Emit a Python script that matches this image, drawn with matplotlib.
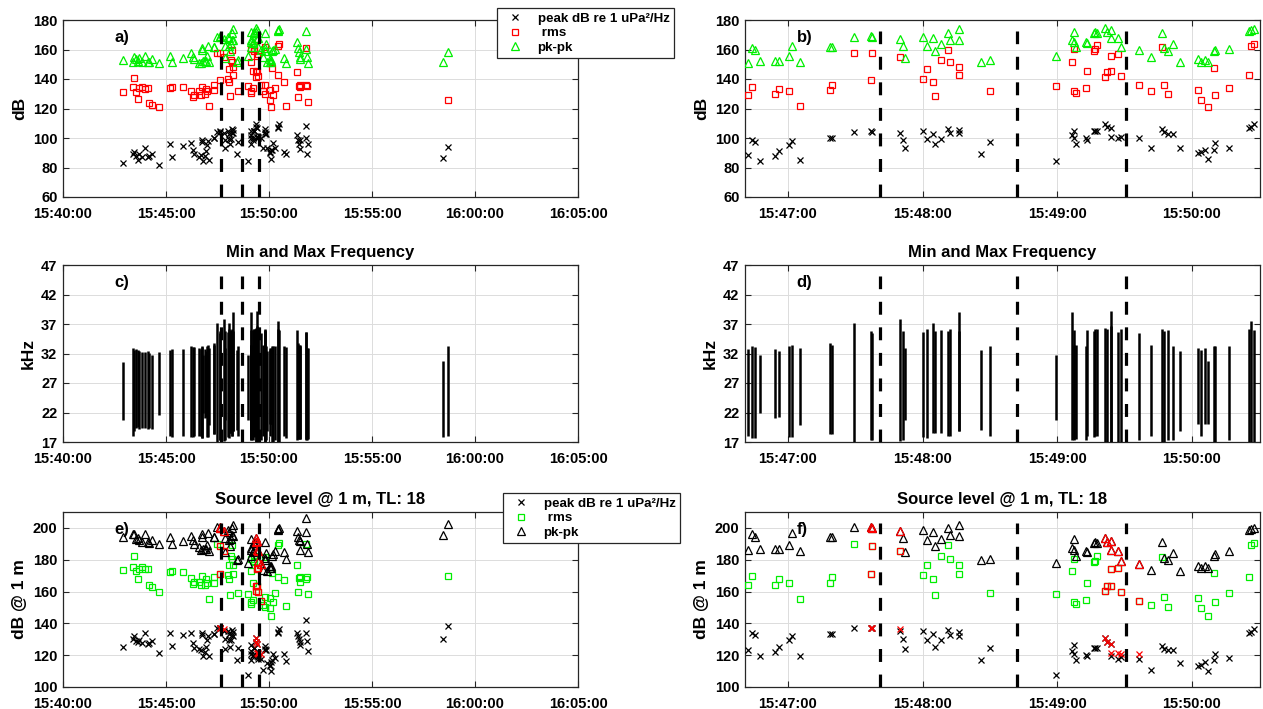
import datetime as dt

import numpy as np
import matplotlib
matplotlib.use("Agg")
import matplotlib.pyplot as plt
import matplotlib.dates as mdates
from matplotlib.lines import Line2D

nan = np.nan

# click times, seconds after 15:40:00
t_sec = [
    173.4, 202.6, 207.5, 212.3, 217.2, 222.1, 229.9, 239.6, 246.4, 251.3,
    259.1, 280.5, 312.7, 316.6, 348.7, 373.1, 377.9, 382.8, 397.4,
    402.3, 404.0, 405.5, 407.8, 414.4, 416.0, 420.4, 421.9, 425.2, 438.9,
    439.5, 449.6, 456.9, 457.5, 470.0, 471.2, 472.4, 480.4, 482.2, 484.5,
    485.4, 488.3, 491.3, 492.4, 496.1, 496.4, 505.9, 509.9,
    539.4, 546.8, 547.3, 547.7, 548.2, 552.8, 553.2, 556.5, 557.0, 557.7,
    561.3, 562.0, 563.8, 564.1, 567.0, 568.5, 576.5, 581.7, 586.9, 587.4,
    589.4, 591.8, 594.9, 602.7, 604.1, 606.0, 607.1, 609.8, 610.2, 616.8,
    625.5, 626.6, 627.8,
    642.9, 648.7, 681.8, 684.7, 687.7, 689.6, 691.5, 707.1, 709.1, 711.0,
    713.9, 1106.5, 1121.1,
]

# received levels (dB)
rl_peak = [
    83.3, 89.4, 90.6, 87.6, 84.9, 89.0, 87.2, 93.5, 87.2, 87.6,
    89.0, 81.5, 96.2, 87.2, 94.6, 96.7, 91.7, 89.0, 87.2,
    88.4, 98.6, 97.5, 84.5, 87.7, 91.1, 95.2, 97.9, 85.2, 99.8,
    99.8, 104.3, 104.8, 104.3, 103.6, 98.9, 93.4, 104.5, 99.1, 103.0,
    95.7, 99.5, 106.4, 103.2, 105.5, 103.2, 88.9, 97.3,
    84.5, 102.0, 99.8, 104.8, 95.7, 99.8, 98.6, 105.0, 104.8, 104.5,
    109.5, 107.7, 106.6, 100.7, 100.2, 100.9, 99.8, 93.0, 105.9, 104.3,
    102.5, 102.5, 93.4, 89.5, 90.5, 92.0, 86.1, 92.0, 96.8, 93.4,
    106.8, 107.7, 109.3,
    90.6, 89.4, 101.9, 98.5, 96.2, 98.5, 92.8, 108.0, 100.3, 89.4,
    96.2, 86.7, 94.0,
]
rl_rms = [
    130.9, 134.3, 141.0, 131.3, 126.3, 133.6, 134.3, 133.1, 133.6, 123.9,
    122.3, 120.7, 134.0, 134.3, 134.3, 132.0, 127.9, 129.0, 132.0,
    129.1, 134.8, nan, nan, 130.0, 133.4, 131.6, nan, 121.4, 132.5,
    135.7, 157.5, 139.1, 157.3, 154.8, nan, nan, 140.0, 147.0, 137.7,
    128.4, 153.0, 160.0, 151.4, 142.5, 148.0, nan, 131.6,
    135.5, 151.8, 132.0, 160.2, 130.2, 133.6, 145.2, 159.1, 160.2, 163.0,
    141.6, 145.0, 145.5, 155.5, 157.0, 142.0, 135.7, 131.8, 161.8, 135.7,
    129.8, nan, nan, 132.5, 125.7, nan, 120.7, 147.5, 128.9, 133.6,
    142.7, 162.7, 163.6,
    138.1, 121.6, 144.9, 127.5, 135.2, 135.9, 134.7, 160.8, 135.9, 135.2,
    124.5, nan, 125.7,
]
rl_pkpk = [
    152.8, 151.7, 155.1, 153.3, 152.0, 154.0, 151.7, 155.8, 151.7, 151.7,
    153.3, 151.0, 155.8, 151.7, 154.0, 157.8, 155.1, 153.3, 151.0,
    150.9, 161.1, 159.5, 152.0, 152.5, 152.5, 155.5, 162.7, 151.8, 161.8,
    161.4, 168.6, 169.3, 168.2, 167.3, 162.5, 154.3, 168.6, 162.7, 167.5,
    159.3, 163.9, 170.9, 166.4, 173.6, 166.6, 151.6, 153.2,
    155.5, 166.4, 165.2, 171.6, 161.8, 165.2, 164.3, 170.9, 172.0, 170.9,
    174.8, 172.0, 173.0, 167.5, 167.5, 161.6, 159.5, 154.8, 170.9, 161.1,
    159.3, 163.9, 151.4, 153.6, 151.8, 153.2, 151.4, 158.9, 160.0, 160.2,
    172.7, 173.0, 173.6,
    154.0, 151.0, 165.3, 160.8, 158.5, 155.1, 153.3, 172.8, 160.1, 155.1,
    151.0, 151.5, 158.5,
]

# min / max frequency (kHz)
f_min = [
    20.8, 18.0, 18.8, 19.4, 19.5, 19.2, 19.4, 19.4, 19.2, 19.4,
    19.2, 21.5, 18.0, 17.8, 18.1, 17.8, 17.8, 18.1, 18.0,
    18.0, 17.7, 17.7, 21.9, 21.1, 21.3, 17.9, 17.9, 19.8, 18.3,
    18.3, 17.0, 17.3, 17.3, 17.2, 17.4, 20.7, 17.9, 17.7, 18.5,
    18.6, 18.5, 18.1, 18.0, 18.8, 18.8, 19.1, 18.1,
    20.7, 17.3, 17.3, 17.5, 17.5, 17.3, 18.1, 17.9, 18.0, 18.0,
    17.0, 17.0, 17.0, 17.0, 17.0, 17.0, 17.4, 18.1, 17.0, 17.0,
    17.3, 17.3, 18.8, 20.1, 18.1, 20.0, 20.0, 17.0, 17.0, 17.3,
    17.0, 17.0, 17.0,
    18.0, 17.7, 17.4, 17.5, 17.5, 17.5, 17.5, 17.5, 17.4, 17.4,
    17.5, 17.8, 18.0,
]
f_max = [
    30.5, 32.9, 32.6, 32.7, 32.6, 32.5, 32.3, 32.3, 32.5, 32.1,
    31.8, 32.2, 32.6, 32.7, 32.7, 33.2, 33.1, 33.1, 32.9,
    32.7, 33.2, 33.1, 31.8, 32.7, 32.4, 33.3, 33.4, 33.0, 33.8,
    33.4, 37.2, 35.8, 35.5, 37.9, 35.8, 33.0, 35.7, 36.1, 37.1,
    35.8, 35.9, 35.8, 36.2, 39.1, 35.8, 32.6, 33.3,
    31.7, 39.1, 36.0, 33.4, 33.4, 33.2, 36.0, 35.8, 36.1, 36.1,
    36.4, 36.2, 39.2, 36.7, 35.7, 36.1, 35.4, 33.4, 36.1, 35.8,
    35.9, 33.3, 32.4, 33.0, 32.6, 33.0, 30.7, 33.2, 33.2, 33.2,
    36.1, 37.5, 35.9,
    33.2, 33.1, 36.0, 33.8, 33.5, 33.5, 33.3, 35.7, 35.7, 33.0,
    32.9, 30.8, 33.2,
]

# source levels @ 1 m (dB)
sl_peak = [
    125.3, 130.4, 132.1, 128.9, 128.0, 129.4, 127.5, 133.7, 126.9, 127.5,
    128.9, 121.1, 134.2, 125.9, 132.5, 133.7, 127.5, 124.8, 124.0,
    123.1, 134.1, 132.4, 119.2, 122.1, 125.4, 129.3, 132.0, 119.2, 133.1,
    133.1, 137.0, 137.0, 137.0, 135.0, 130.0, 124.1, 134.9, 129.3, 133.5,
    125.4, 129.3, 136.0, 132.4, 134.5, 132.0, 117.1, 124.8,
    107.8, 122.7, 121.0, 126.4, 116.9, 120.2, 119.4, 124.8, 124.6, 124.5,
    131.0, 128.5, 127.3, 119.6, 117.9, 118.7, 117.9, 110.8, 125.8, 124.1,
    123.1, 123.1, 114.8, 112.9, 113.6, 115.9, 110.3, 116.9, 121.0, 118.5,
    134.1, 134.7, 136.2,
    120.7, 116.6, 133.7, 132.1, 130.0, 128.4, 126.5, 142.0, 133.7, 129.0,
    122.8, 130.4, 138.3,
]
sl_rms = [
    173.5, 175.6, 182.2, 173.1, 167.7, 173.9, 175.2, 173.9, 173.9, 164.4,
    162.7, 160.0, 172.5, 173.1, 172.5, 168.3, 164.8, 166.3, 166.3,
    164.1, 169.5, nan, nan, 164.1, 167.7, 165.6, nan, 155.6, 165.6,
    168.9, 189.6, 171.0, 188.8, 185.5, nan, nan, 170.2, 177.0, 167.7,
    158.1, 182.2, 189.2, 180.5, 171.2, 176.6, nan, 159.0,
    158.3, 173.1, 153.4, 180.7, 152.0, 154.4, 165.6, 178.4, 179.5, 182.2,
    160.4, 163.5, 163.7, 173.9, 175.1, 159.8, 153.8, 151.3, 181.6, 156.3,
    150.3, nan, nan, 155.9, 149.4, nan, 144.9, 171.6, 153.2, 159.4,
    169.3, 189.0, 190.7,
    167.3, 151.1, 176.6, 160.0, 168.7, 169.4, 166.0, 190.0, 168.0, 169.0,
    158.6, nan, 170.0,
]
sl_pkpk = [
    194.6, 195.9, 196.3, 193.2, 193.8, 192.1, 191.1, 196.3, 191.1, 190.5,
    192.1, 190.1, 194.6, 190.1, 191.5, 194.8, 192.1, 190.1, 188.0,
    186.3, 195.9, 194.0, 186.5, 186.5, 186.5, 189.4, 196.5, 185.5, 194.6,
    194.6, 200.8, 200.8, 199.8, 198.3, 193.6, 184.9, 198.5, 192.7, 197.3,
    188.6, 193.2, 199.8, 195.6, 202.1, 194.8, 179.7, 180.3,
    178.2, 187.6, 186.3, 193.2, 182.6, 185.5, 184.9, 190.7, 191.1, 190.5,
    193.6, 190.9, 191.5, 185.9, 185.5, 179.3, 177.4, 173.3, 191.1, 181.3,
    179.7, 184.2, 172.8, 176.0, 174.9, 176.2, 174.7, 182.4, 183.8, 185.3,
    198.8, 199.4, 200.0,
    184.9, 180.7, 197.9, 194.2, 192.5, 191.7, 185.9, 206.2, 197.3, 189.6,
    184.9, 195.7, 202.5,
]

# clicks drawn in red on the source level panels
red_sec = [456.9, 457.5, 470.0, 561.3, 562.0, 563.8, 564.1, 567.0, 568.5, 576.5]
red_peak = [137.0, 137.0, 136.2, 131.0, 128.5, 127.3, 121.2, 121.2, 121.0, 120.6]
red_rms = [171.0, 188.8, 185.5, 160.4, 163.5, 163.7, 173.9, 175.1, 159.8, 153.8]
red_pkpk = [200.8, 199.8, 198.3, 193.6, 190.9, 191.5, 185.9, 185.5, 179.3, 177.4]

dash_sec = [461.0, 522.0, 570.6]

base = dt.datetime(2016, 1, 1, 15, 40, 0)


def to_time(secs):
    return [base + dt.timedelta(seconds=float(s)) for s in secs]


t = to_time(t_sec)
t_red = to_time(red_sec)
t_dash = to_time(dash_sec)

plt.rcParams["font.family"] = ["Liberation Sans", "DejaVu Sans"]
plt.rcParams["font.weight"] = "bold"
plt.rcParams["axes.titleweight"] = "bold"
plt.rcParams["axes.labelweight"] = "bold"

GREEN = "#00ee00"
AX_COL = "#262626"
W, H = 1263, 709
fig = plt.figure(figsize=(W / 100, H / 100), dpi=100)


def px_axes(x0, y0, x1, y1):
    return fig.add_axes([x0 / W, 1 - y1 / H, (x1 - x0) / W, (y1 - y0) / H])


ax_a = px_axes(63, 20, 578, 197)
ax_b = px_axes(745, 20, 1260, 197)
ax_c = px_axes(63, 265, 578, 442)
ax_d = px_axes(745, 265, 1260, 442)
ax_e = px_axes(63, 512, 578, 687)
ax_f = px_axes(745, 512, 1260, 687)

left_lim = to_time([0, 1500])
right_lim = to_time([400.9, 630.4])
left_ticks = to_time(np.arange(0, 1501, 300))
right_ticks = to_time([420, 480, 540, 600])


def style(ax, lim, ticks, ylim, yticks, label):
    ax.set_xlim(lim)
    ax.set_xticks(ticks)
    ax.xaxis.set_major_formatter(mdates.DateFormatter("%H:%M:%S"))
    ax.set_ylim(ylim)
    ax.set_yticks(yticks)
    ax.grid(True, color="#dcdcdc", lw=0.7)
    ax.set_axisbelow(True)
    for s in ax.spines.values():
        s.set_color(AX_COL)
        s.set_linewidth(0.9)
    ax.tick_params(direction="in", length=4, width=0.8, top=True, right=True,
                   labelsize=10.5, colors=AX_COL, labelcolor="black")
    ax.tick_params(axis="x", pad=7)
    ax.tick_params(axis="y", pad=4)
    ax.set_ylabel(label, fontsize=12.5, labelpad=4)
    for d in t_dash:
        ax.axvline(d, ymin=0, ymax=0.94, color="black", lw=2.3,
                   dashes=(4.05, 3.95), zorder=4)


def panel_tag(ax, txt):
    ax.text(0.10, 0.9, txt, transform=ax.transAxes, fontsize=12,
            ha="left", va="center")


# received levels
for ax, lim, ticks, tag in [(ax_a, left_lim, left_ticks, "a)"),
                            (ax_b, right_lim, right_ticks, "b)")]:
    style(ax, lim, ticks, (60, 180), np.arange(60, 181, 20), "dB")
    ax.plot(t, rl_peak, "x", color="black", ms=4.8, mew=0.9, zorder=3)
    ax.plot(t, rl_rms, "s", mfc="none", mec="red", ms=4.6, mew=0.9, zorder=3)
    ax.plot(t, rl_pkpk, "^", mfc="none", mec=GREEN, ms=5.8, mew=0.9, zorder=3)
    panel_tag(ax, tag)

# frequency range
for ax, lim, ticks, tag in [(ax_c, left_lim, left_ticks, "c)"),
                            (ax_d, right_lim, right_ticks, "d)")]:
    style(ax, lim, ticks, (17, 47), np.arange(17, 48, 5), "kHz")
    ax.vlines(t, f_min, f_max, color="black", lw=1.8, zorder=3)
    ax.set_title("Min and Max Frequency", fontsize=12, pad=6)
    panel_tag(ax, tag)

# source levels
for ax, lim, ticks, tag in [(ax_e, left_lim, left_ticks, "e)"),
                            (ax_f, right_lim, right_ticks, "f)")]:
    style(ax, lim, ticks, (100, 210), np.arange(100, 201, 20), "dB @ 1 m")
    ax.plot(t, sl_peak, "x", color="black", ms=4.8, mew=0.9, zorder=3)
    ax.plot(t, sl_rms, "s", mfc="none", mec=GREEN, ms=4.6, mew=0.9, zorder=3)
    ax.plot(t, sl_pkpk, "^", mfc="none", mec="black", ms=5.8, mew=0.9, zorder=3)
    ax.plot(t_red, red_peak, "x", color="red", ms=4.8, mew=0.9, zorder=3)
    ax.plot(t_red, red_rms, "s", mfc="none", mec="red", ms=4.6, mew=0.9, zorder=3)
    ax.plot(t_red, red_pkpk, "^", mfc="none", mec="red", ms=5.8, mew=0.9, zorder=3)
    ax.set_title("Source level @ 1 m, TL: 18", fontsize=12, pad=6)
    panel_tag(ax, tag)

labels = ["peak dB re 1 uPa\u00b2/Hz", " rms", "pk-pk"]


def legend_at(x, y, colors):
    handles = [
        Line2D([], [], ls="none", marker="x", color=colors[0], ms=4.8, mew=0.9),
        Line2D([], [], ls="none", marker="s", mfc="none", mec=colors[1], ms=4.6, mew=0.9),
        Line2D([], [], ls="none", marker="^", mfc="none", mec=colors[2], ms=5.8, mew=0.9),
    ]
    leg = fig.legend(handles, labels, loc="upper left",
                     bbox_to_anchor=(x / W, 1 - y / H), fontsize=9.6,
                     frameon=True, fancybox=False, framealpha=1,
                     edgecolor=AX_COL, borderpad=0.35, labelspacing=0.15,
                     handlelength=2.0, handletextpad=0.7, borderaxespad=0)
    leg.get_frame().set_linewidth(0.9)
    return leg


legend_at(497, 8, ["black", "red", GREEN])
legend_at(503, 493, ["black", GREEN, "black"])

fig.savefig("out.png", dpi=100)
